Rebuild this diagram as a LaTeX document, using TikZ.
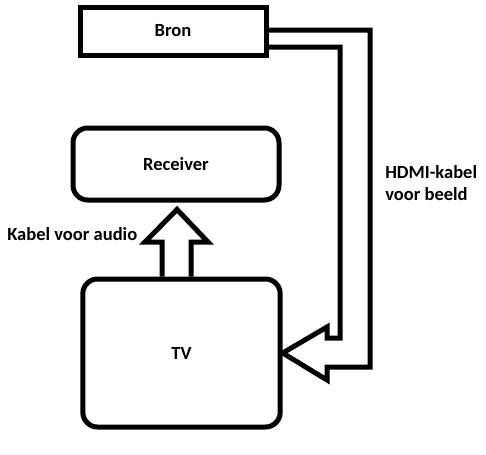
\documentclass[tikz,border=0pt]{standalone}
\usepackage{fontspec}
\setmainfont{Carlito}
\usetikzlibrary{calc}

\tikzset{
  box/.style={draw, line width=3.75pt, inner sep=0pt, font=\bfseries\fontsize{13.9}{16.5}\selectfont},
  rbox/.style={box, rounded corners=11pt},
  lbl/.style={inner sep=0pt, align=left, font=\bfseries\fontsize{13.9}{16.5}\selectfont},
  fat/.style={draw, line width=3.75pt, line join=miter}
}

\begin{document}
\begin{tikzpicture}[x=0.75pt, y=-0.75pt]
    \useasboundingbox (0,0) rectangle (486,454);

	\node[box, minimum width=139.5pt, minimum height=36pt] (bron) at (173,31) {Bron};
	\node[rbox, minimum width=154.5pt, minimum height=54pt] (receiver) at (176,164) {Receiver};
	\node[rbox, minimum width=148pt, minimum height=111pt] (tv) at (181.5,353) {TV};

	% arrow for audio
	\coordinate (ua) at (tv.north -| 162,0);
	\coordinate (ub) at (tv.north -| 191,0);
	\draw[fat] (ua) -- (162,242) -- (145,242) -- ($(receiver.south)+(1,7)$)
	    -- (208,242) -- (191,242) -- (ub);

	% hdmi
	\draw[fat] ($(bron.east)+(0,-1)$) -- (370,30) -- (370,367) -- (327,367) -- (327,380)
	    -- (tv.east) -- (327,327) -- (327,338) -- (340,338) -- (340,47) -- ($(bron.east)+(0,16)$);

	\node[lbl, anchor=base west] (audio) at (7,240) {Kabel voor audio};
	\node[lbl, anchor=west] (hdmi) at (385,183) {HDMI-kabel\\voor beeld};
\end{tikzpicture}
\end{document}
